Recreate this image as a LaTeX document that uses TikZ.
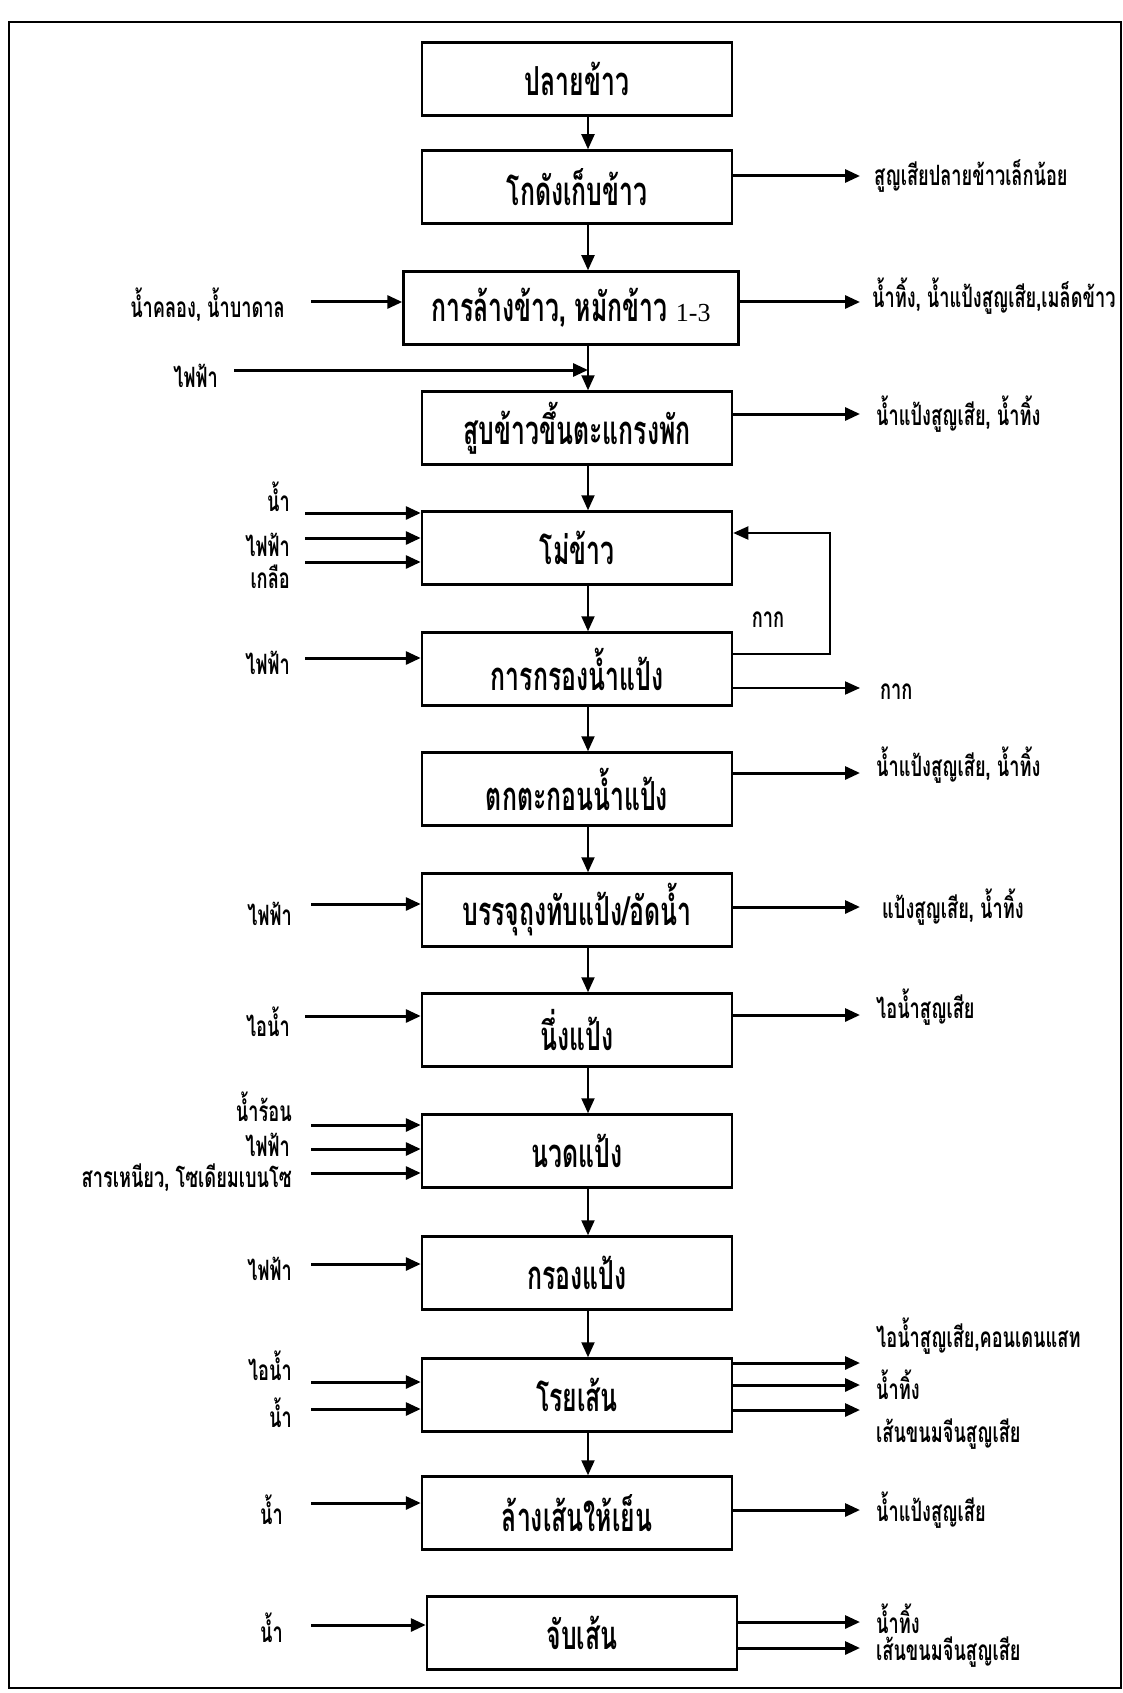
\documentclass[tikz,border=0pt]{standalone}
\usepackage{fontspec}
\newfontfamily\thaibox[Script=Thai,FakeStretch=0.62]{Loma}
\newfontfamily\thailbl[Script=Thai,FakeStretch=0.65]{Loma}
\newfontfamily\latin{Liberation Serif}
\usepackage{tikz}
\usetikzlibrary{arrows.meta}

\tikzset{
  proc/.style={rectangle,draw,line width=2.5pt,minimum width=310pt,minimum height=73pt,inner sep=0pt,
    font=\thaibox\bfseries\fontsize{40}{46}\selectfont},
  lbl/.style={inner sep=0pt,font=\thailbl\bfseries\fontsize{28}{32}\selectfont},
  inl/.style={lbl,anchor=east},
  outl/.style={lbl,anchor=west},
  flow/.style={-{Triangle[length=15pt,width=13pt]},line width=2pt},
  feed/.style={-{Triangle[length=15pt,width=13pt]},line width=3pt},
}

\begin{document}
\begin{tikzpicture}[x=1pt,y=-1pt]
 \useasboundingbox (0,0) rectangle (1123,1693);
 \draw[line width=2.5pt] (9,22) rectangle (1121,1688);

 \node[proc] (rice) at (577,79) {ปลายข้าว};
 \node[proc] (store) at (577,187) {โกดังเก็บข้าว};
 \node[proc,minimum width=335pt] (wash) at (571,308) {การล้างข้าว, หมักข้าว {\latin\mdseries\fontsize{26}{30}\selectfont 1-3}};
 \node[proc] (pump) at (577,428) {สูบข้าวขึ้นตะแกรงพัก};
 \node[proc] (mill) at (577,548) {โม่ข้าว};
 \node[proc] (filt) at (577,669) {การกรองน้ำแป้ง};
 \node[proc] (settle) at (577,789) {ตกตะกอนน้ำแป้ง};
 \node[proc] (press) at (577,910) {บรรจุถุงทับแป้ง/อัดน้ำ};
 \node[proc] (steam) at (577,1030) {นึ่งแป้ง};
 \node[proc] (knead) at (577,1151) {นวดแป้ง};
 \node[proc] (sieve) at (577,1273) {กรองแป้ง};
 \node[proc] (extr) at (577,1395) {โรยเส้น};
 \node[proc] (cool) at (577,1513) {ล้างเส้นให้เย็น};
 \node[proc] (pick) at (582,1633) {จับเส้น};

 \coordinate (ax) at (588,0);
 \draw[flow] (rice.south -| ax) -- (store.north -| ax);
 \draw[flow] (store.south -| ax) -- (wash.north -| ax);
 \draw[flow] (wash.south -| ax) -- (pump.north -| ax);
 \draw[flow] (pump.south -| ax) -- (mill.north -| ax);
 \draw[flow] (mill.south -| ax) -- (filt.north -| ax);
 \draw[flow] (filt.south -| ax) -- (settle.north -| ax);
 \draw[flow] (settle.south -| ax) -- (press.north -| ax);
 \draw[flow] (press.south -| ax) -- (steam.north -| ax);
 \draw[flow] (steam.south -| ax) -- (knead.north -| ax);
 \draw[flow] (knead.south -| ax) -- (sieve.north -| ax);
 \draw[flow] (sieve.south -| ax) -- (extr.north -| ax);
 \draw[flow] (extr.south -| ax) -- (cool.north -| ax);

 % inputs on the left
 \node[inl] (n3) at (285,305) {น้ำคลอง, น้ำบาดาล};
 \coordinate (i3) at (311,302);
 \draw[feed] (i3) -- (i3 -| wash.west);
 \node[inl] (n4) at (218,376) {ไฟฟ้า};
 \coordinate (i4) at (234,370);
 \draw[feed] (i4) -- (i4 -| ax);
 \node[inl] (n5a) at (290,497) {น้ำ};
 \node[inl] (n5b) at (290,545) {ไฟฟ้า};
 \node[inl] (n5c) at (290,577) {เกลือ};
 \coordinate (i5a) at (305,513);
 \coordinate (i5b) at (305,538);
 \coordinate (i5c) at (305,562);
 \draw[feed] (i5a) -- (i5a -| mill.west);
 \draw[feed] (i5b) -- (i5b -| mill.west);
 \draw[feed] (i5c) -- (i5c -| mill.west);
 \node[inl] (n6) at (290,663) {ไฟฟ้า};
 \coordinate (i6) at (305,658);
 \draw[feed] (i6) -- (i6 -| filt.west);
 \node[inl] (n8) at (292,914) {ไฟฟ้า};
 \coordinate (i8) at (311,904);
 \draw[feed] (i8) -- (i8 -| press.west);
 \node[inl] (n9) at (290,1022) {ไอน้ำ};
 \coordinate (i9) at (305,1016);
 \draw[feed] (i9) -- (i9 -| steam.west);
 \node[inl] (n10a) at (292,1107) {น้ำร้อน};
 \node[inl] (n10b) at (290,1145) {ไฟฟ้า};
 \node[inl] (n10c) at (292,1178) {สารเหนียว, โซเดียมเบนโซ};
 \coordinate (i10a) at (311,1125);
 \coordinate (i10b) at (311,1149);
 \coordinate (i10c) at (311,1173);
 \draw[feed] (i10a) -- (i10a -| knead.west);
 \draw[feed] (i10b) -- (i10b -| knead.west);
 \draw[feed] (i10c) -- (i10c -| knead.west);
 \node[inl] (n11) at (292,1269) {ไฟฟ้า};
 \coordinate (i11) at (311,1264);
 \draw[feed] (i11) -- (i11 -| sieve.west);
 \node[inl] (n12a) at (292,1366) {ไอน้ำ};
 \node[inl] (n12b) at (292,1413) {น้ำ};
 \coordinate (i12a) at (311,1382);
 \coordinate (i12b) at (311,1409);
 \draw[feed] (i12a) -- (i12a -| extr.west);
 \draw[feed] (i12b) -- (i12b -| extr.west);
 \node[inl] (n13) at (283,1510) {น้ำ};
 \coordinate (i13) at (311,1503);
 \draw[feed] (i13) -- (i13 -| cool.west);
 \node[inl] (n14) at (283,1628) {น้ำ};
 \coordinate (i14) at (311,1625);
 \draw[feed] (i14) -- (i14 -| pick.west);

 % losses on the right
 \coordinate (o2) at (860,176);
 \draw[feed] (o2 -| store.east) -- (o2);
 \node[outl] (r2) at (874,176) {สูญเสียปลายข้าวเล็กน้อย};
 \coordinate (o3) at (860,302);
 \draw[feed] (o3 -| wash.east) -- (o3);
 \node[outl] (r3) at (872,296) {น้ำทิ้ง, น้ำแป้งสูญเสีย,เมล็ดข้าว};
 \coordinate (o4) at (860,414);
 \draw[feed] (o4 -| pump.east) -- (o4);
 \node[outl] (r4) at (876,414) {น้ำแป้งสูญเสีย, น้ำทิ้ง};

 \coordinate (fb) at (830,654);
 \coordinate (fb2) at (830,533);
 \draw[flow] (fb -| filt.east) -- (fb) -- (fb2) -- (fb2 -| mill.east);
 \node[lbl] (dreg1) at (768,620) {กาก};
 \coordinate (o6) at (860,688);
 \draw[flow] (o6 -| filt.east) -- (o6);
 \node[outl] (r6) at (880,692) {กาก};

 \coordinate (o7) at (860,773);
 \draw[feed] (o7 -| settle.east) -- (o7);
 \node[outl] (r7) at (876,765) {น้ำแป้งสูญเสีย, น้ำทิ้ง};
 \coordinate (o8) at (860,907);
 \draw[feed] (o8 -| press.east) -- (o8);
 \node[outl] (r8) at (882,907) {แป้งสูญเสีย, น้ำทิ้ง};
 \coordinate (o9) at (860,1015);
 \draw[feed] (o9 -| steam.east) -- (o9);
 \node[outl] (r9) at (876,1007) {ไอน้ำสูญเสีย};

 \coordinate (o12a) at (860,1363);
 \coordinate (o12b) at (860,1385);
 \coordinate (o12c) at (860,1410);
 \draw[feed] (o12a -| extr.east) -- (o12a);
 \draw[feed] (o12b -| extr.east) -- (o12b);
 \draw[feed] (o12c -| extr.east) -- (o12c);
 \node[outl] (r12a) at (876,1336) {ไอน้ำสูญเสีย,คอนเดนแสท};
 \node[outl] (r12b) at (876,1385) {น้ำทิ้ง};
 \node[outl] (r12c) at (876,1434) {เส้นขนมจีนสูญเสีย};

 \coordinate (o13) at (860,1510);
 \draw[feed] (o13 -| cool.east) -- (o13);
 \node[outl] (r13) at (876,1510) {น้ำแป้งสูญเสีย};
 \coordinate (o14a) at (860,1622);
 \coordinate (o14b) at (860,1648);
 \draw[feed] (o14a -| pick.east) -- (o14a);
 \draw[feed] (o14b -| pick.east) -- (o14b);
 \node[outl] (r14a) at (876,1619) {น้ำทิ้ง};
 \node[outl] (r14b) at (876,1652) {เส้นขนมจีนสูญเสีย};
\end{tikzpicture}
\end{document}
